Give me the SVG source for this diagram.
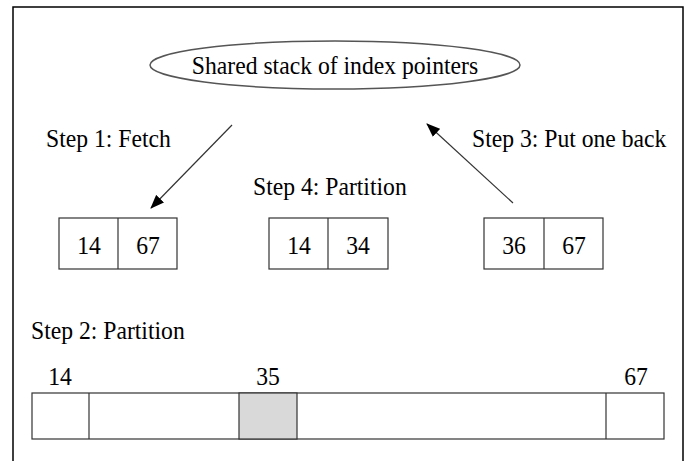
<svg xmlns="http://www.w3.org/2000/svg" width="690" height="461" viewBox="0 0 690 461">
<style>
text{font-family:"Liberation Serif","Times New Roman",serif;font-size:26px;fill:#000}
.c{text-anchor:middle}
.box{fill:#fff;stroke:#333;stroke-width:1.2}
.ln{stroke:#333;stroke-width:1.2}
.arr{stroke:#333;stroke-width:1.2;fill:none;marker-end:url(#ah)}
</style>
<defs>
<marker id="ah" viewBox="0 0 14 11" refX="13" refY="5.5" markerWidth="14" markerHeight="11" markerUnits="userSpaceOnUse" orient="auto">
<path d="M0,0 L14,5.5 L0,11 z" fill="#000"/>
</marker>
</defs>
<rect x="0" y="0" width="690" height="461" fill="#fff"/>
<path d="M13,470 V7 H683 V470" fill="none" stroke="#000" stroke-width="1.5"/>
<g id="stack">
<ellipse cx="335" cy="65" rx="185" ry="24" fill="#fff" stroke="#555" stroke-width="1.5"/>
<text class="c" transform="translate(335,74) scale(0.91,1)">Shared stack of index pointers</text>
</g>
<g id="connectors">
<line class="arr" x1="232" y1="125" x2="151" y2="208"/>
<line class="arr" x1="513" y1="203" x2="427" y2="124"/>
</g>
<g id="labels">
<text transform="translate(46,147) scale(0.91,1)">Step 1: Fetch</text>
<text transform="translate(472,147) scale(0.91,1)">Step 3: Put one back</text>
<text transform="translate(253,195) scale(0.91,1)">Step 4: Partition</text>
<text transform="translate(31,339) scale(0.91,1)">Step 2: Partition</text>
</g>
<g id="pair1">
<rect class="box" x="59" y="218" width="118" height="51"/>
<line class="ln" x1="118" y1="218" x2="118" y2="269"/>
<text class="c" transform="translate(89,254) scale(0.91,1)">14</text>
<text class="c" transform="translate(148,254) scale(0.91,1)">67</text>
</g>
<g id="pair2">
<rect class="box" x="269" y="218" width="119" height="51"/>
<line class="ln" x1="328" y1="218" x2="328" y2="269"/>
<text class="c" transform="translate(299,254) scale(0.91,1)">14</text>
<text class="c" transform="translate(358,254) scale(0.91,1)">34</text>
</g>
<g id="pair3">
<rect class="box" x="484" y="218" width="119" height="51"/>
<line class="ln" x1="544" y1="218" x2="544" y2="269"/>
<text class="c" transform="translate(514,254) scale(0.91,1)">36</text>
<text class="c" transform="translate(574,254) scale(0.91,1)">67</text>
</g>
<g id="array">
<rect class="box" x="32" y="393" width="632" height="46"/>
<rect x="239" y="393" width="58" height="46" fill="#d9d9d9" stroke="#333" stroke-width="1.2"/>
<line class="ln" x1="89" y1="393" x2="89" y2="439"/>
<line class="ln" x1="606" y1="393" x2="606" y2="439"/>
<text class="c" transform="translate(60,385) scale(0.91,1)">14</text>
<text class="c" transform="translate(268,385) scale(0.91,1)">35</text>
<text class="c" transform="translate(636,385) scale(0.91,1)">67</text>
</g>
</svg>
